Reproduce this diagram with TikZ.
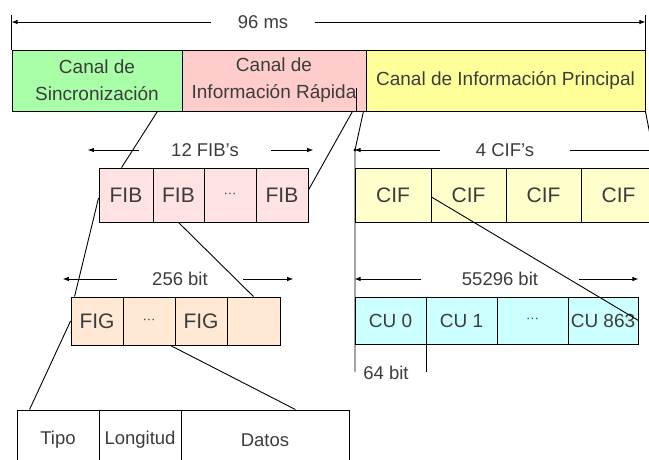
\documentclass[tikz,border=0pt]{standalone}
\usepackage{fontspec}
\setmainfont{Liberation Sans}
\usetikzlibrary{arrows.meta}

\definecolor{syncgreen}{RGB}{168,255,168}
\definecolor{ficpink}{RGB}{255,204,204}
\definecolor{fipyellow}{RGB}{255,255,153}
\definecolor{fibpink}{RGB}{255,226,226}
\definecolor{cifyellow}{RGB}{255,255,204}
\definecolor{figpeach}{RGB}{255,233,212}
\definecolor{cucyan}{RGB}{204,255,255}
\definecolor{txtgray}{RGB}{60,60,60}

\begin{document}
\begin{tikzpicture}[x=1pt, y=-1pt, line width=0.9pt,
	cell/.style={rectangle, draw, inner sep=0pt, text=txtgray},
	topcell/.style={cell, minimum height=61pt, align=center, font=\fontsize{19}{27}\selectfont},
	rowcell/.style={cell, minimum height=54pt, font=\fontsize{21}{25}\selectfont},
	lbl/.style={inner xsep=32pt, inner ysep=0pt, text=txtgray, font=\fontsize{18.5}{22}\selectfont},
	dim/.style={-{Latex[length=6pt,width=4.5pt]}}]
	\clip (0,0) rectangle (649,459);

	% transmission frame
	\draw
	(97,80.5) node [topcell, fill=syncgreen, minimum width=170pt] (sync) {Canal de\\Sincronización}
	(274,80.5) node [topcell, fill=ficpink, minimum width=184pt] (fic) {Canal de\\Información Rápida}
	(505.5,80.5) node [topcell, fill=fipyellow, minimum width=279pt] (fip) {Canal de Información Principal};

	\node [lbl, inner xsep=26pt] (ms) at (263,22) {96 ms};
	\draw[dim] (ms.west) -- (ms.west -| sync.west);
	\draw[dim] (ms.east) -- (ms.east -| fip.east);
	\draw (sync.north west) -- ++(0,-35);
	\draw (fip.north east) -- ++(0,-35);

	% FIC
	\draw
	(126,195) node [rowcell, fill=fibpink, minimum width=54pt] (fib1) {FIB}
	(178.5,195) node [rowcell, fill=fibpink, minimum width=51pt] (fib2) {FIB}
	(230,195) node [rowcell, fill=fibpink, minimum width=52pt] (fib3) {\fontsize{13}{13}\selectfont ···}
	(282,195) node [rowcell, fill=fibpink, minimum width=52pt] (fib4) {FIB};

	\node [lbl] (fibs) at (205,150) {12 FIB's};
	\draw[dim] (fibs.west) -- ++(-51,0);
	\draw[dim] (fibs.east) -- ++(42,0);

	\draw
	(97,321) node [rowcell, fill=figpeach, minimum width=52pt, minimum height=48pt] (fig1) {FIG}
	(149,321) node [rowcell, fill=figpeach, minimum width=52pt, minimum height=48pt] (fig2) {\fontsize{13}{13}\selectfont ···}
	(201,321) node [rowcell, fill=figpeach, minimum width=52pt, minimum height=48pt] (fig3) {FIG}
	(253.5,321) node [rowcell, fill=figpeach, minimum width=53pt, minimum height=48pt] (fig4) {};

	\node [lbl, inner xsep=35pt] (figbits) at (180,279) {256 bit};
	\draw[dim] (figbits.west) -- ++(-54,0);
	\draw[dim] (figbits.east) -- ++(50,0);

	\draw
	(58,440) node [cell, minimum width=82pt, minimum height=60pt, font=\fontsize{18.5}{22}\selectfont] (tipo) {Tipo}
	(140,440) node [cell, minimum width=82pt, minimum height=60pt, font=\fontsize{18.5}{22}\selectfont] (long) {Longitud}
	(265,440) node [cell, minimum width=168pt, minimum height=60pt, font=\fontsize{18.5}{22}\selectfont] (datos) {Datos};

	% MSC
	\draw
	(393,195) node [rowcell, fill=cifyellow, minimum width=76pt] (cif1) {CIF}
	(468.5,195) node [rowcell, fill=cifyellow, minimum width=75pt] (cif2) {CIF}
	(543.5,195) node [rowcell, fill=cifyellow, minimum width=75pt] (cif3) {CIF}
	(618.5,195) node [rowcell, fill=cifyellow, minimum width=75pt] (cif4) {CIF};

	\node [lbl, inner xsep=35pt] (cifs) at (505,150) {4 CIF's};
	\draw[dim] (cifs.west) -- (cifs.west -| cif1.west);
	\draw[dim] (cifs.east) -- (cifs.east -| cif4.east);

	\draw
	(390.5,320.5) node [rowcell, fill=cucyan, minimum width=71pt, minimum height=47pt, font=\fontsize{19}{23}\selectfont] (cu1) {CU 0}
	(461.5,320.5) node [rowcell, fill=cucyan, minimum width=71pt, minimum height=47pt, font=\fontsize{19}{23}\selectfont] (cu2) {CU 1}
	(532.5,320.5) node [rowcell, fill=cucyan, minimum width=71pt, minimum height=47pt] (cu3) {\fontsize{13}{13}\selectfont ···}
	(603,320.5) node [rowcell, fill=cucyan, minimum width=70pt, minimum height=47pt, font=\fontsize{19}{23}\selectfont] (cu4) {CU 863};

	\node [lbl, inner xsep=40pt] (cubits) at (500,279) {55296 bit};
	\draw[dim] (cubits.west) -- (cubits.west -| cu1.west);
	\draw[dim] (cubits.east) -- (cubits.east -| cu4.east);
	\node [lbl, inner xsep=0pt] (cu0bits) at (386,373) {64 bit};

	% zoom lines
	\coordinate (split) at (355,150);
	\draw ([xshift=-25pt]sync.south east) -- ([xshift=23pt]fib1.north west);
	\draw ([xshift=-10pt]fic.south east) -- ++(0,-23);
	\draw ([xshift=-14pt]fic.south east) -- ([yshift=5pt]fib4.east);
	\draw ([xshift=-3pt]fic.south east) -- (split) -- ++(0,222);
	\fill (split) circle (1.6pt);
	\draw (fip.south east) -- (cif4.north east);
	\draw ([yshift=-3pt]fib1.west) -- ([xshift=4pt]fig1.north west);
	\draw (fib2.south) -- (fig4.north);
	\draw (fig1.west) -- ([xshift=13pt]tipo.north west);
	\draw ([xshift=-5pt]fig2.south east) -- ([xshift=-54pt]datos.north east);
	\draw ([yshift=-2pt]cif1.east) -- (cu4.east);
	\draw (cu1.south east) -- ++(0,28);
\end{tikzpicture}
\end{document}
